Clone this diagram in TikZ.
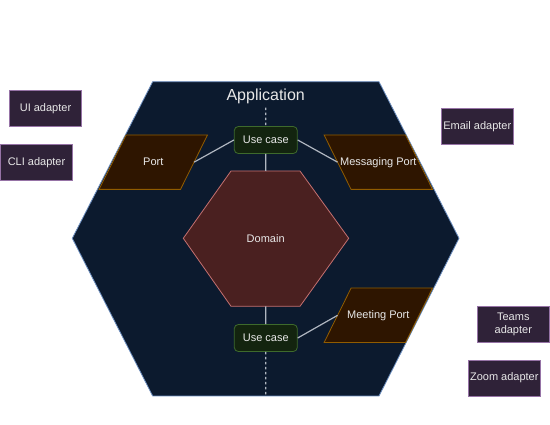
\documentclass[tikz,border=0pt]{standalone}
\usepackage{fontspec}
\setmainfont{Liberation Sans}

\definecolor{appfill}{RGB}{12,26,46}
\definecolor{appline}{RGB}{108,142,191}
\definecolor{domfill}{RGB}{74,32,32}
\definecolor{domline}{RGB}{196,112,112}
\definecolor{portfill}{RGB}{46,21,0}
\definecolor{portline}{RGB}{145,92,0}
\definecolor{ucfill}{RGB}{19,36,15}
\definecolor{ucline}{RGB}{62,106,44}
\definecolor{adfill}{RGB}{47,34,56}
\definecolor{adline}{RGB}{150,115,166}
\definecolor{wire}{RGB}{176,182,192}
\definecolor{label}{RGB}{232,232,232}

\begin{document}
\begin{tikzpicture}[
            x=1pt, y=-1pt,
            every node/.style={text=label, font=\fontsize{11}{13}\selectfont},
            adapter/.style={draw=adline, fill=adfill, line width=0.8pt,
                minimum width=72pt, minimum height=36pt, inner sep=1pt, align=center},
            usecase/.style={draw=ucline, fill=ucfill, line width=0.8pt, rounded corners=4pt,
                minimum width=63pt, minimum height=27pt, inner sep=0pt},
            port/.style={minimum width=81pt, minimum height=54pt, inner sep=0pt},
            portshape/.style={draw=portline, fill=portfill, line width=0.8pt},
            wire/.style={draw=wire, line width=1.2pt},
            axis/.style={draw=wire, line width=1.2pt, dash pattern=on 2.5pt off 2.5pt},
            ]
            \useasboundingbox (0,0) rectangle (550,425);

            % application hexagon
            \draw[fill=appfill, draw=appline, line width=0.8pt]
                (152.7,81.7) -- (379,81.7) -- (459,238.3) -- (379,396)
                -- (152.7,396) -- (72.3,238.3) -- cycle;
            \node (app) at (265.7,96) {\fontsize{16}{18}\selectfont Application};
            \coordinate (axistop) at (265.7,107.7);
            \coordinate (axisbot) at (265.7,396);

            % domain hexagon
            \draw[fill=domfill, draw=domline, line width=0.8pt]
                (231,171) -- (300,171) -- (348.7,238.3) -- (300,306.3)
                -- (231,306.3) -- (183.3,238.3) -- cycle;
            \node (domain) at (265.7,238.3) {Domain};
            \coordinate (domtop) at (265.7,171);
            \coordinate (dombot) at (265.7,306.3);

            % use cases
            \node[usecase] (uctop) at (265.8,140) {Use case};
            \node[usecase] (ucbot) at (265.8,338) {Use case};

            % ports (parallelograms round their node boxes)
            \node[port] (port) at (153.3,162.2) {};
            \node[port] (msgport) at (378.3,162.2) {};
            \node[port] (meetport) at (378.3,315.3) {};
            \draw[portshape] ([xshift=-13.5pt]port.south west) -- ([xshift=-13.5pt]port.south east)
                -- ([xshift=13.5pt]port.north east) -- ([xshift=13.5pt]port.north west) -- cycle;
            \draw[portshape] ([xshift=13.5pt]msgport.south west) -- ([xshift=13.5pt]msgport.south east)
                -- ([xshift=-13.5pt]msgport.north east) -- ([xshift=-13.5pt]msgport.north west) -- cycle;
            \draw[portshape] ([xshift=-13.5pt]meetport.south west) -- ([xshift=-13.5pt]meetport.south east)
                -- ([xshift=13.5pt]meetport.north east) -- ([xshift=13.5pt]meetport.north west) -- cycle;
            \node at (port) {Port};
            \node at (msgport) {Messaging Port};
            \node at (meetport) {Meeting Port};

            \draw[axis] (axistop) -- (uctop.north);
            \draw[axis] (ucbot.south) -- (axisbot);
            \draw[wire] (port.east) -- (uctop.west);
            \draw[wire] (uctop.east) -- (msgport.west);
            \draw[wire] (uctop.south) -- (domtop);
            \draw[wire] (dombot) -- (ucbot.north);
            \draw[wire] (ucbot.east) -- (meetport.west);

            % adapters
            \node[adapter] (ui) at (45.5,108.3) {UI adapter};
            \node[adapter] (cli) at (36.5,162.3) {CLI adapter};
            \node[adapter] (email) at (477.3,126.3) {Email adapter};
            \node[adapter] (teams) at (513.3,324.2) {Teams\\adapter};
            \node[adapter] (zoom) at (504.3,378) {Zoom adapter};
        \end{tikzpicture}
\end{document}
